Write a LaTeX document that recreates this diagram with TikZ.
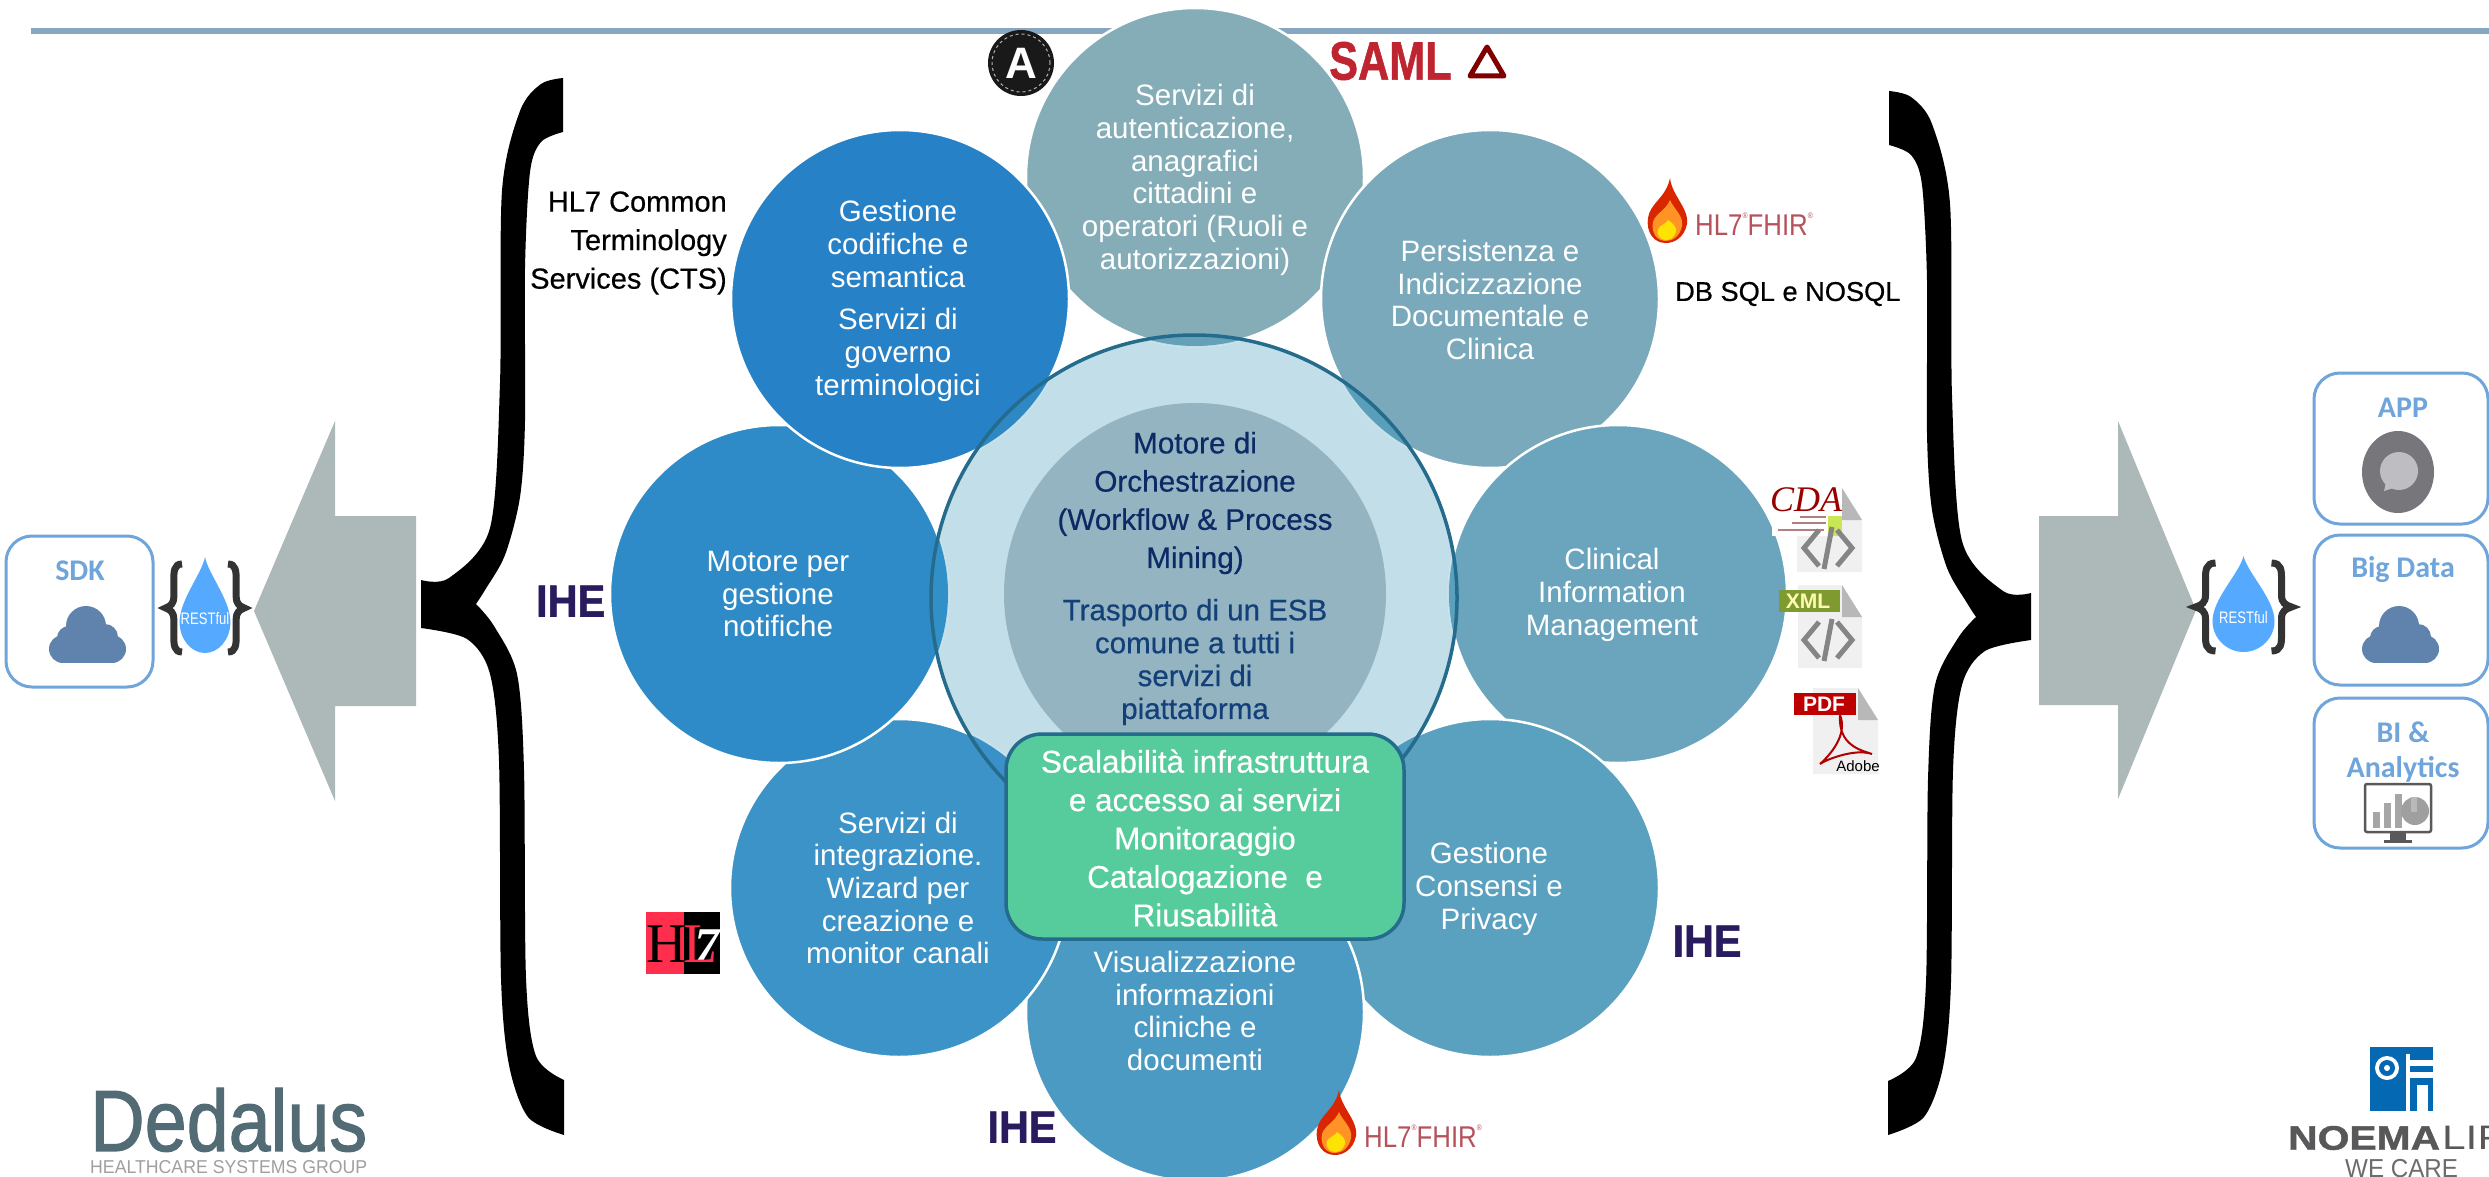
\documentclass[tikz,border=0pt]{standalone}
\usepackage{fontspec}
\setmainfont{Liberation Sans}
\newfontfamily\carlitofam{Carlito}
\newfontfamily\serifam{Liberation Serif}
\newfontfamily\medfam[FakeBold=0.5]{Liberation Sans}
\newfontfamily\heavyfam[FakeBold=1.2]{Liberation Sans Bold}
\newfontfamily\dedfam[FakeBold=1.4]{Liberation Sans}
\definecolor{discl}{HTML}{C2DEE9}
\definecolor{ringc}{HTML}{256C8C}
\definecolor{boxb}{HTML}{6FA5DA}
\definecolor{cloudc}{HTML}{6083AD}
\definecolor{arrowc}{HTML}{ADB9B9}
\definecolor{ihec}{HTML}{2A1A5E}
\definecolor{fhirc}{HTML}{B5525A}
\definecolor{dropc}{HTML}{55A9FF}
\definecolor{rulec}{HTML}{86A6C2}
\definecolor{innerc}{HTML}{94B4C1}
\definecolor{greenc}{HTML}{56CB9B}
\definecolor{navyc}{HTML}{0B2A66}
\definecolor{navyd}{HTML}{134078}
\definecolor{fa}{HTML}{84ADB8}\definecolor{oa}{HTML}{64A1B8}
\definecolor{fb}{HTML}{79A9BA}\definecolor{ob}{HTML}{5B9EB9}
\definecolor{fc}{HTML}{6AA5BD}\definecolor{oc}{HTML}{5BA0BC}
\definecolor{fd}{HTML}{5AA0BF}\definecolor{od}{HTML}{4D9AC0}
\definecolor{fe}{HTML}{4B9AC3}\definecolor{oe}{HTML}{4596C3}
\definecolor{ff}{HTML}{3C93C7}\definecolor{of}{HTML}{3A90C8}
\definecolor{fg}{HTML}{2F8BC7}\definecolor{og}{HTML}{3290C8}
\definecolor{fh}{HTML}{2681C7}\definecolor{oh}{HTML}{2D88C3}
\definecolor{dedc}{HTML}{526B74}
\definecolor{noemab}{HTML}{0568B2}
\definecolor{noemag}{HTML}{58585A}
\definecolor{samlc}{HTML}{BE2530}
\definecolor{hlred}{HTML}{FF2E4C}
\definecolor{xmlc}{HTML}{7F9A2E}
\definecolor{appo}{HTML}{76767B}
\definecolor{appi}{HTML}{BDBDC2}
\tikzset{
 satdisc/.style={circle,minimum size=338pt,inner sep=0pt,draw=white,line width=2.5pt},
 wt/.style={text=white,align=center,inner sep=0pt,font=\fontsize{29.5}{32.7}\selectfont},
 bk/.style={text=black,inner sep=0pt,font=\medfam\fontsize{29}{38.5}\selectfont},
 tile/.style={draw=boxb,line width=3pt,rounded corners=26pt,fill=white},
 tiletxt/.style={text=boxb,align=center,inner sep=0pt,font=\carlitofam\bfseries\fontsize{30}{35}\selectfont},
 ihelogo/.style={text=ihec,inner sep=0pt,font=\heavyfam\fontsize{45}{45}\selectfont},
 bigarrow/.style={fill=arrowc,draw=none},
 code/.style={draw=black!48,line width=5pt},
 tagtxt/.style={inner sep=0pt,font=\bfseries\fontsize{21}{21}\selectfont}
}
\newcommand\satc[5]{%
 \node[satdisc,fill=#4] (#1) at (#2,#3) {};
 \begin{scope}
 \clip (1194,598) circle (263pt);
 \draw[discl,line width=2.5pt] (#2,#3) circle (169pt);
 \fill[#5] (#2,#3) circle (169pt);
 \end{scope}}
\newcommand\cloudicon[2]{%
 \begin{scope}[shift={(#1,#2)},cloudc]
 \fill (14,43) circle (14pt);
 \fill (20,32) circle (12pt);
 \fill (37,20) circle (20pt);
 \fill (56,31) circle (13pt);
 \fill (63,43) circle (14pt);
 \fill (14,30) rectangle (63,57);
 \end{scope}}
\newcommand\restlogo[4]{% name,cx,cy,xscale
 \begin{scope}[shift={(#2,#3)},xscale=#4]
 \draw[line width=7pt,color=black!80] (-28,-44) .. controls (-38,-44) and (-38,-36) .. (-38,-28) -- (-38,-12) .. controls (-38,-4) and (-42,-2) .. (-48,0) .. controls (-42,2) and (-38,4) .. (-38,12) -- (-38,28) .. controls (-38,36) and (-38,44) .. (-28,44);
 \draw[line width=7pt,color=black!80] (28,-44) .. controls (38,-44) and (38,-36) .. (38,-28) -- (38,-12) .. controls (38,-4) and (42,-2) .. (48,0) .. controls (42,2) and (38,4) .. (38,12) -- (38,28) .. controls (38,36) and (38,44) .. (28,44);
 \fill[dropc] (0,-51) .. controls (4,-34) and (31,-8) .. (31,14) .. controls (31,32) and (16,45) .. (0,45) .. controls (-16,45) and (-31,32) .. (-31,14) .. controls (-31,-8) and (-4,-34) .. (0,-51) -- cycle;
 \end{scope}
 \node[text=white,inner sep=0pt,font=\fontsize{14.5}{14.5}\selectfont] (#1) at (#2,#3+11) {\scalebox{.9}[1.15]{RESTful}};}
\newcommand\flamelogo[3]{% name,x,y
 \begin{scope}[shift={(#2,#3)}]
 \fill[red!65!orange!85!black] (24,0) .. controls (26,18) and (43,30) .. (41,46) .. controls (38,60) and (28,65) .. (20,65) .. controls (8,65) and (0,55) .. (2,40) .. controls (4,25) and (20,20) .. (24,0) -- cycle;
 \fill[orange!85!white] (24,22) .. controls (27,30) and (38,38) .. (36,48) .. controls (34,58) and (27,63) .. (20,63) .. controls (10,63) and (5,54) .. (7,44) .. controls (9,36) and (20,32) .. (24,22) -- cycle;
 \fill[yellow!85!orange] (22,42) .. controls (28,46) and (31,50) .. (30,54) .. controls (28,60) and (24,62) .. (20,62) .. controls (14,62) and (10,57) .. (12,51) .. controls (14,47) and (20,46) .. (22,42) -- cycle;
 \node[anchor=west,text=fhirc,inner sep=0pt,font=\fontsize{30}{30}\selectfont] (#1) at (49,46) {\scalebox{.86}[1]{HL7\raisebox{1.1ex}{\fontsize{8}{8}\selectfont®}FHIR\raisebox{1.1ex}{\fontsize{8}{8}\selectfont®}}};
 \end{scope}}
\newcommand\docpage[4]{%
 \fill[black!6] (#1,#2) -- (#3-20,#2) -- (#3,#2+32) -- (#3,#4) -- (#1,#4) -- cycle;
 \fill[black!28] (#3-20,#2) -- (#3,#2+32) -- (#3-20,#2+32) -- cycle;}
\newcommand\codeglyph[2]{%
 \begin{scope}[shift={(#1,#2)}]
 \draw[code] (-9,-18) -- (-24,0) -- (-9,18);
 \draw[code] (9,-18) -- (24,0) -- (9,18);
 \draw[code] (4,-21) -- (-4,21);
 \end{scope}}
\begin{document}
\begin{tikzpicture}[x=1pt,y=-1pt]
\useasboundingbox (0,0) rectangle (2489,1177);
\clip (0,0) rectangle (2489,1177);
\fill[white] (0,0) rectangle (2489,1177);
% top rule
\fill[rulec] (31,28) rectangle (2489,34);
% big arrows
\fill[bigarrow] (254,611) -- (335,421) -- (335,516) -- (416,516) -- (416,706) -- (335,706) -- (335,801) -- cycle;
\fill[bigarrow] (2196,610) -- (2118,421) -- (2118,516) -- (2039,516) -- (2039,705) -- (2118,705) -- (2118,799) -- cycle;
% braces
\fill[black] plot[smooth] coordinates {(421,580) (449,578) (490,528) (500,383) (502,191) (520,111) (541,84) (563,78)} -- (563,132) -- plot[smooth] coordinates {(563,132) (541,142) (530,172) (525,268) (525,421) (520,497) (505,555) (485,590) (476,604)} -- plot[smooth] coordinates {(476,604) (494,626) (517,674) (524,770) (526,978) (536,1056) (564,1080)} -- (564,1135) -- plot[smooth] coordinates {(564,1135) (528,1117) (509,1065) (501,978) (499,761) (490,674) (467,639) (421,628)} -- cycle;
\fill[black] plot[smooth] coordinates {(2031,593) (2003,591) (1962,541) (1952,396) (1950,204) (1932,124) (1911,97) (1889,91)} -- (1889,145) -- plot[smooth] coordinates {(1889,145) (1911,155) (1922,185) (1927,281) (1927,434) (1932,510) (1947,568) (1967,603) (1976,617)} -- plot[smooth] coordinates {(1976,617) (1958,638) (1935,685) (1928,779) (1926,982) (1916,1058) (1888,1081)} -- (1888,1135) -- plot[smooth] coordinates {(1888,1135) (1924,1117) (1943,1067) (1951,982) (1953,770) (1962,685) (1985,651) (2031,640)} -- cycle;
% IHE behind circle
\node[ihelogo,anchor=west] (iheA) at (536,601) {\scalebox{.92}[1]{IHE}};
% central disc under satellites
\fill[discl] (1194,598) circle (263pt);
% satellites
\satc{sTop}{1195}{177}{fa}{oa}
\satc{sPers}{1490}{299}{fb}{ob}
\satc{sClin}{1618}{594}{fc}{oc}
\satc{sCons}{1490}{888}{fd}{od}
\satc{sVis}{1195}{1012}{fe}{oe}
\satc{sInt}{899}{888}{ff}{of}
\satc{sNot}{779}{594}{fg}{og}
\satc{sCod}{900}{299}{fh}{oh}
% centre
\node[circle,minimum size=382pt,inner sep=0pt,fill=innerc] (inner) at (1195,594) {};
\draw[ringc,line width=3.5pt] (1194,598) circle (263pt);
\node[rectangle,rounded corners=36pt,minimum width=398pt,minimum height=205pt,inner sep=0pt,fill=greenc,draw=ringc,line width=3.5pt] (green) at (1205,836.5) {};
% satellite texts
\node[wt] (tTop) at (1195,180) {Servizi di\\autenticazione,\\anagrafici\\cittadini e\\operatori (Ruoli e\\autorizzazioni)};
\node[wt] (tPers) at (1490,300) {Persistenza e\\Indicizzazione\\Documentale e\\Clinica};
\node[wt] (tClin) at (1612,595) {Clinical\\Information\\Management};
\node[wt] (tCons) at (1489,889) {Gestione\\Consensi e\\Privacy};
\node[wt] (tVis) at (1195,1011) {Visualizzazione\\informazioni\\cliniche e\\documenti};
\node[wt] (tInt) at (898,888) {Servizi di\\integrazione.\\Wizard per\\creazione e\\monitor canali};
\node[wt] (tNot) at (778,594) {Motore per\\gestione\\notifiche};
\node[wt] (tCodA) at (898,244) {Gestione\\codifiche e\\semantica};
\node[wt] (tCodB) at (898,355) {Servizi di\\governo\\terminologici};
% centre texts
\node[text=navyc,align=center,inner sep=0pt,font=\medfam\fontsize{29.7}{38.2}\selectfont] (tOrch) at (1195,503) {Motore di\\Orchestrazione\\(Workflow \& Process\\Mining)};
\node[text=navyd,align=center,inner sep=0pt,font=\medfam\fontsize{29.5}{32.9}\selectfont] (tEsb) at (1195,662) {Trasporto di un ESB\\comune a tutti i\\servizi di\\piattaforma};
\node[text=white,align=center,inner sep=0pt,font=\medfam\fontsize{31.4}{38.4}\selectfont] (tGreen) at (1205,838) {Scalabilità infrastruttura\\e accesso ai servizi\\Monitoraggio\\Catalogazione\ \ e\\Riusabilità};
% side labels
\node[bk,align=right,anchor=east] (tCts) at (727,243) {HL7 Common\\Terminology\\Services (CTS)};
\node[bk,font=\medfam\fontsize{27.2}{30}\selectfont,anchor=west] (tDb) at (1675,294) {DB SQL e NOSQL};
% tiles
\draw[tile] (6,536) rectangle (153,687);
\draw[tile] (2314,373) rectangle (2488,524);
\draw[tile] (2314,535) rectangle (2488,685);
\draw[tile] (2314,698) rectangle (2488,848);
\node[tiletxt] (tSdk) at (80,571) {SDK};
\node[tiletxt] (tApp) at (2403,408) {APP};
\node[tiletxt] (tBig) at (2403,570) {Big Data};
\node[tiletxt] (tBi) at (2403,752) {BI \&\\Analytics};
\cloudicon{49}{606}
\cloudicon{2362}{606}
% app icon
\fill[appo] (2398,472) ellipse (36pt and 41pt);
\fill[appi] (2399,471) circle (19pt);
\fill[appi] (2386,482) -- (2384,491) -- (2396,487) -- cycle;
% BI icon
\fill[white] (2366,785) rectangle (2431,832);
\draw[gray!70!black,line width=2.5pt,rounded corners=2pt] (2365,784) rectangle (2431,832);
\fill[gray!70] (2373,812) rectangle (2380,828);
\fill[gray!70] (2384,803) rectangle (2391,828);
\fill[gray!70] (2395,794) rectangle (2402,828);
\fill[gray!75] (2415,811) circle (14pt);
\fill[gray!55] (2411,797) rectangle (2417,812);
\fill[gray!70!black] (2390,833) rectangle (2406,840);
\fill[gray!70!black] (2384,840) rectangle (2412,843);
% REST
\restlogo{rL}{205}{608}{0.82}
\restlogo{rR}{2243.5}{607}{1}
% IHE logos
\node[ihelogo] (iheB) at (1707,941) {\scalebox{.92}[1]{IHE}};
\node[ihelogo] (iheC) at (1022,1127) {\scalebox{.92}[1]{IHE}};
% FHIR
\flamelogo{fhirA}{1646}{178}
\flamelogo{fhirB}{1315}{1090}
% auth logo
\fill[black!90] (1021,63) circle (33pt);
\draw[gray!60,line width=1pt,dashed] (1021,63) circle (29pt);
\node[text=white,inner sep=0pt,font=\bfseries\fontsize{44}{44}\selectfont] (authA) at (1021,63) {A};
% SAML
\node[text=samlc,inner sep=0pt,anchor=west,font=\heavyfam\fontsize{54}{54}\selectfont] (saml) at (1329,61) {\scalebox{.8}[1]{SAML}};
\draw[red!50!black,line width=5pt,line join=round] (1487,47) -- (1504,76) -- (1470,76) -- cycle;
% CDA
\docpage{1797}{488}{1862}{572}
\fill[white] (1772,483) rectangle (1842,536);
\fill[yellow!70!green!70] (1828,516) rectangle (1842,536);
\node[text=red!60!black,inner sep=0pt,font=\serifam\itshape\fontsize{36}{36}\selectfont] (cda) at (1806,500) {CDA};
\foreach \yy/\xa/\xb in {517/1800/1826,523/1792/1826,530/1778/1824} {\draw[red!40!black!50,line width=1.5pt] (\xa,\yy) -- (\xb,\yy);}
\codeglyph{1828}{548}
% XML
\docpage{1798}{585}{1862}{668}
\fill[xmlc] (1779,590) rectangle (1840,612);
\node[tagtxt,text=yellow!30] (xml) at (1808,601) {XML};
\codeglyph{1828}{640}
% PDF
\docpage{1813}{688}{1878}{774}
\fill[red!75!black] (1794,693) rectangle (1856,715);
\node[tagtxt,text=white] (pdf) at (1824,704) {PDF};
\draw[red!70!black,line width=2pt] (1840,715) .. controls (1838,745) and (1860,750) .. (1872,754) .. controls (1855,748) and (1825,760) .. (1820,764) .. controls (1830,755) and (1848,735) .. (1840,715);
\node[text=black,inner sep=0pt,font=\fontsize{15}{15}\selectfont] (adobe) at (1858,766) {Adobe};
% HL7
\fill[hlred] (646,912) rectangle (684,974);
\fill[black] (684,912) rectangle (720,974);
\node[text=black,inner sep=0pt,font=\serifam\fontsize{56}{56}\selectfont] (hlH) at (667,944) {H};
\node[text=white,inner sep=0pt,font=\serifam\bfseries\itshape\fontsize{50}{50}\selectfont] (hl7) at (707,946) {7};
\node[text=hlred,inner sep=0pt,font=\serifam\fontsize{56}{56}\selectfont] (hlL) at (701,944) {L};
% Dedalus
\node[text=dedc,inner sep=0pt,anchor=south west] (ded) at (90,1152) {\resizebox{277pt}{63pt}{\dedfam Dedalus}};
\node[text=gray!75,inner sep=0pt,anchor=south west] (dedsub) at (90,1174) {\resizebox{277pt}{13pt}{HEALTHCARE SYSTEMS GROUP}};
% Noema
\fill[noemab] (2370,1047) rectangle (2433,1111);
\fill[white] (2406,1054) rectangle (2410,1111);
\fill[white] (2406,1060) rectangle (2433,1066);
\fill[white] (2406,1072) rectangle (2433,1078);
\fill[white] (2417,1085) rectangle (2428,1111);
\fill[white] (2387,1068) circle (12pt);
\fill[noemab] (2387,1068) circle (8pt);
\fill[white] (2387,1068) circle (3pt);
\node[text=noemag,inner sep=0pt,anchor=west,font=\heavyfam\fontsize{34}{34}\selectfont] (noema) at (2288,1138) {\scalebox{1.2}[1]{NOEMA}\hspace{2pt}\scalebox{1.25}[1]{\fontspec{Liberation Sans}LIFE}};
\node[text=gray!85!black,inner sep=0pt,anchor=west,font=\fontsize{26}{26}\selectfont] (wecare) at (2345,1169) {\scalebox{.93}[1]{WE CARE}};
\end{tikzpicture}
\end{document}
